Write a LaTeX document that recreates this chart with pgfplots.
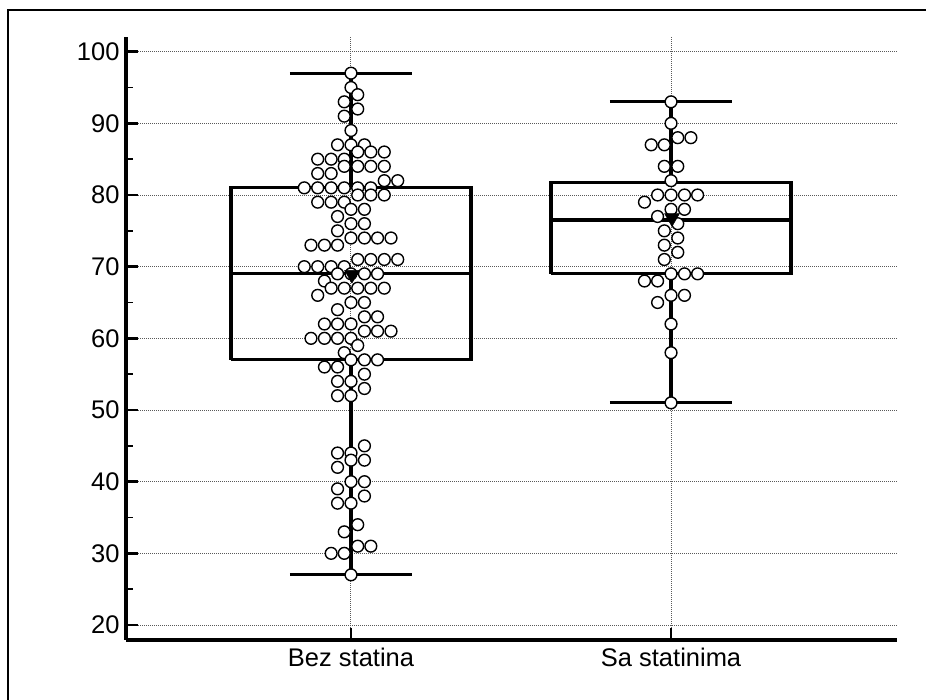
\documentclass[border=0pt]{standalone}
\usepackage{fontspec}
\setmainfont{Liberation Sans}
\usepackage{pgfplots}
\pgfplotsset{compat=1.18}
\begin{document}
\begin{tikzpicture}
\useasboundingbox (0pt,0pt) rectangle (926pt,700pt);
\fill[white] (0pt,0pt) rectangle (926pt,700pt);
\draw[line width=2.2pt] (8pt,-5pt) -- (8pt,690pt) -- (935pt,690pt);
\begin{axis}[
  at={(126pt,60pt)}, anchor=south west,
  scale only axis, width=771pt, height=603.3pt,
  xmin=-0.703, xmax=1.706, ymin=17.91, ymax=102.09,
  axis x line*=bottom, axis y line*=left,
  axis line style={line width=3.2pt, -},
  tick align=inside,
  xtick={0,1}, xticklabels={Bez statina, Sa statinima},
  ytick={20,30,...,100}, minor ytick={25,35,...,95},
  major tick length=12pt, minor tick length=7pt,
  major tick style={line width=2.8pt, black},
  minor tick style={line width=1.4pt, black},
  xmajorgrids, ymajorgrids,
  grid style={gray!70!black, line width=1pt, dash pattern=on 1pt off 1pt},
  /pgf/number format/assume math mode=true,
  tick label style={font=\fontsize{25.5}{30}\selectfont, black},
  yticklabel style={xshift=-3pt},
  xticklabel style={yshift=-4pt},
]
% box 1
\addplot[black, line width=3.2pt, mark=none] coordinates {(-0.375,57) (0.375,57) (0.375,81) (-0.375,81) (-0.375,57)};
\addplot[black, line width=3.2pt, mark=none] coordinates {(-0.375,69) (0.375,69)};
\addplot[black, line width=3.2pt, mark=none] coordinates {(0,81) (0,97)};
\addplot[black, line width=3.2pt, mark=none] coordinates {(0,57) (0,27)};
\addplot[black, line width=3.2pt, mark=none] coordinates {(-0.191,97) (0.191,97)};
\addplot[black, line width=3.2pt, mark=none] coordinates {(-0.191,27) (0.191,27)};
% box 2
\addplot[black, line width=3.2pt, mark=none] coordinates {(0.625,69) (1.375,69) (1.375,81.8) (0.625,81.8) (0.625,69)};
\addplot[black, line width=3.2pt, mark=none] coordinates {(0.625,76.5) (1.375,76.5)};
\addplot[black, line width=3.2pt, mark=none] coordinates {(1,81.8) (1,93)};
\addplot[black, line width=3.2pt, mark=none] coordinates {(1,69) (1,51)};
\addplot[black, line width=3.2pt, mark=none] coordinates {(0.809,93) (1.191,93)};
\addplot[black, line width=3.2pt, mark=none] coordinates {(0.809,51) (1.191,51)};
% Bez statina
\addplot[only marks, mark=*, mark size=5.9pt, mark options={fill=white, draw=black, line width=1.4pt}] coordinates {
(0,97) (0,95) (0.021,94) (-0.021,93) (0.021,92) (-0.021,91) (0,89)
(-0.042,87) (0,87) (0.042,87)
(0.021,86) (0.062,86) (0.104,86)
(-0.104,85) (-0.062,85) (-0.021,85)
(-0.021,84) (0.021,84) (0.062,84) (0.104,84)
(-0.104,83) (-0.062,83)
(0.104,82) (0.146,82)
(-0.146,81) (-0.104,81) (-0.062,81) (-0.021,81) (0.021,81) (0.062,81)
(0.021,80) (0.062,80) (0.104,80)
(-0.104,79) (-0.062,79) (-0.021,79)
(0,78) (0.042,78)
(-0.042,77)
(0,76) (0.042,76)
(-0.042,75)
(0,74) (0.042,74) (0.083,74) (0.125,74)
(-0.125,73) (-0.083,73) (-0.042,73)
(0.021,71) (0.062,71) (0.104,71) (0.146,71)
(-0.146,70) (-0.104,70) (-0.062,70) (-0.021,70)
(-0.042,69) (0,69) (0.042,69) (0.083,69)
(-0.083,68)
(-0.062,67) (-0.021,67) (0.021,67) (0.062,67) (0.104,67)
(-0.104,66)
(0,65) (0.042,65)
(-0.042,64)
(0.042,63) (0.083,63)
(-0.083,62) (-0.042,62) (0,62)
(0.042,61) (0.083,61) (0.125,61)
(-0.125,60) (-0.083,60) (-0.042,60) (0,60)
(0.021,59)
(-0.021,58)
(0,57) (0.042,57) (0.083,57)
(-0.083,56) (-0.042,56)
(0.042,55)
(-0.042,54) (0,54)
(0.042,53)
(-0.042,52) (0,52)
(0.042,45)
(-0.042,44) (0,44)
(0,43) (0.042,43)
(-0.042,42)
(0,40) (0.042,40)
(-0.042,39)
(0.042,38)
(-0.042,37) (0,37)
(0.021,34)
(-0.021,33)
(0.021,31) (0.062,31)
(-0.062,30) (-0.021,30)
(0,27)
};
% Sa statinima
\addplot[only marks, mark=*, mark size=5.9pt, mark options={fill=white, draw=black, line width=1.4pt}] coordinates {
(1,93) (1,90) (1.021,88) (1.062,88) (0.938,87) (0.979,87) (0.979,84) (1.021,84)
(1,82) (0.958,80) (1,80) (1.042,80) (1.083,80) (0.917,79) (1,78) (1.042,78)
(0.958,77) (1.021,76) (0.979,75) (1.021,74) (0.979,73) (1.021,72) (0.979,71)
(1,69) (1.042,69) (1.083,69) (0.917,68) (0.958,68) (1,66) (1.042,66) (0.958,65)
(1,62) (1,58) (1,51)
};
% means
\addplot[only marks, mark=triangle*, mark size=8.5pt, mark options={rotate=180, fill=black, draw=black, line width=0.5pt}] coordinates {
(0.003,68.9) (1.003,76.8)
};
\end{axis}
\end{tikzpicture}
\end{document}
